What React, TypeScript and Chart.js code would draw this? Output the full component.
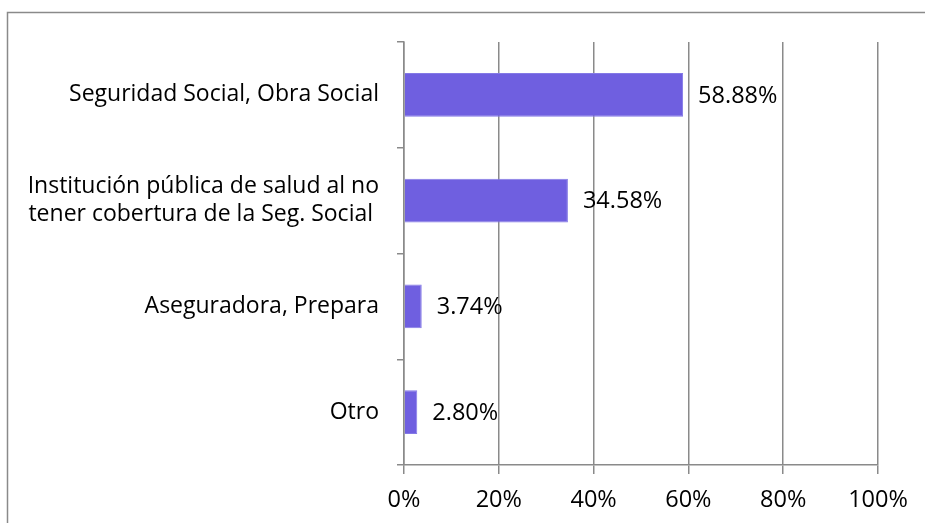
import React, { useEffect, useRef } from "react";
import { Chart, registerables } from "chart.js";

Chart.register(...registerables);

const categories: (string | string[])[] = [
  "Seguridad Social, Obra Social",
  ["Institución pública de salud al no", "tener cobertura de la Seg. Social "],
  "Aseguradora, Prepara",
  "Otro",
];
const values = [58.88, 34.58, 3.74, 2.8];
const xTicks = [0, 20, 40, 60, 80, 100];

const FONT = "'Open Sans', sans-serif";
const GRID = "#8a8a8a";
const BAR = "#6f5fe0";

export default function App() {
  const ref = useRef<HTMLCanvasElement | null>(null);
  useEffect(() => {
    if (!ref.current) return;
    const frame = {
      id: "frame",
      beforeDraw(chart: any) {
        const ctx = chart.ctx;
        ctx.save();
        ctx.strokeStyle = GRID;
        ctx.lineWidth = 1.5;
        ctx.beginPath();
        ctx.moveTo(7.5, 600);
        ctx.lineTo(7.5, 12.5);
        ctx.lineTo(1000, 12.5);
        ctx.stroke();
        ctx.restore();
      },
    };
    const labelsPlugin = {
      id: "valueLabels",
      afterDatasetsDraw(chart: any) {
        const ctx = chart.ctx;
        const meta = chart.getDatasetMeta(0);
        ctx.save();
        ctx.font = `23.5px ${FONT}`;
        ctx.fillStyle = "#000";
        ctx.textAlign = "left";
        ctx.textBaseline = "middle";
        meta.data.forEach((el: any, i: number) => {
          ctx.fillText(values[i].toFixed(2) + "%", el.x + 15, el.y + 1);
        });
        ctx.restore();
      },
    };
    const chart = new Chart(ref.current, {
      type: "bar",
      data: {
        labels: categories,
        datasets: [
          {
            data: values,
            backgroundColor: BAR,
            borderColor: "#8479e6",
            borderWidth: 1,
            barPercentage: 0.415,
            categoryPercentage: 1,
          },
        ],
      },
      options: {
        indexAxis: "y",
        responsive: false,
        animation: false,
        layout: { padding: { top: 42, right: 47, left: 0, bottom: 0 } },
        plugins: { legend: { display: false }, tooltip: { enabled: false } },
        scales: {
          x: {
            min: 0,
            max: 100,
            afterBuildTicks(scale: any) {
              scale.ticks = xTicks.map((v) => ({ value: v }));
            },
            afterFit(scale: any) {
              scale.height = 58;
            },
            border: { color: GRID, width: 1.5 },
            grid: { color: GRID, lineWidth: 1.5, tickLength: 9, drawTicks: true },
            ticks: {
              color: "#000",
              font: { family: FONT, size: 23.5 },
              padding: 12,
              callback: (v: any) => v + "%",
            },
          },
          y: {
            afterFit(scale: any) {
              scale.width = 404;
            },
            border: { color: GRID, width: 1.5 },
            grid: { drawOnChartArea: false, color: GRID, lineWidth: 1.5, tickLength: 7, offset: true },
            ticks: {
              color: "#000",
              font: { family: FONT, size: 23, lineHeight: 1.22 },
              padding: 18,
            },
          },
        },
      },
      plugins: [frame, labelsPlugin],
    });
    return () => chart.destroy();
  }, []);
  return (
    <div style={{ position: "absolute", left: 0, top: 0, width: 925, height: 523, background: "#fff" }}>
      <canvas ref={ref} width={925} height={523} style={{ display: "block" }} />
    </div>
  );
}
